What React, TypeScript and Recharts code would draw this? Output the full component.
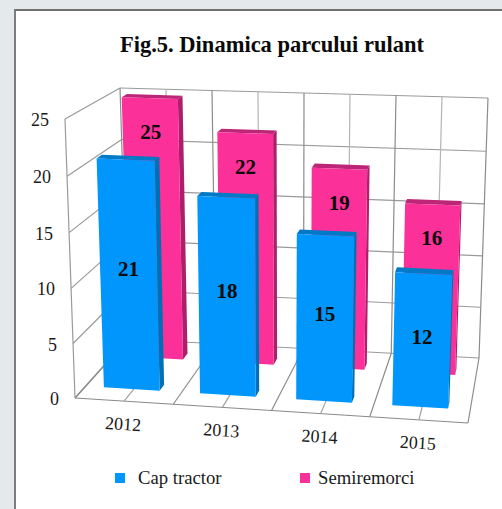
import { Bar, BarChart, CartesianGrid, LabelList, Legend, XAxis, YAxis } from "recharts";

const years = ["2012", "2013", "2014", "2015"];
const capTractor = [21, 18, 15, 12];
const semiremorci = [25, 22, 19, 16];
const valueTicks = [0, 5, 10, 15, 20, 25];

const data = years.map((year, i) => ({
  year,
  capTractor: capTractor[i],
  semiremorci: semiremorci[i],
}));

const WIDTH = 502;
const HEIGHT = 509;
// flat plot rectangle Recharts lays out, everything is then projected into the 3D box
const PLOT = { x: 60, y: 80, w: 400, h: 300 };
const SERIF = "'Liberation Serif', 'Times New Roman', serif";

const BLUE = { front: "#0096fb", side: "#0070b4", top: "#0079c6", near: 0.2, far: 0.3, shift: -1, shrink: 2 };
const PINK = { front: "#fb3098", side: "#ad1f6b", top: "#bd2676", near: 0.72, far: 0.82, shift: -2, shrink: 1 };

type Pt = [number, number];
// box corners, [front, back] for bottom and top, seen on screen
const BOX = {
  bottomLeft: [[75, 398], [128, 339]] as Pt[],
  bottomRight: [[468, 423], [479, 358]] as Pt[],
  topLeft: [[65, 119], [120, 88]] as Pt[],
  topRight: [[478, 134], [488, 98]] as Pt[],
};

const mix = (a: number, b: number, t: number) => a + (b - a) * t;
const mixPt = (a: Pt, b: Pt, t: number): Pt => [mix(a[0], b[0], t), mix(a[1], b[1], t)];

function project(px: number, py: number, depth: number): Pt {
  const u = (px - PLOT.x) / PLOT.w;
  const flat = (PLOT.y + PLOT.h - py) / PLOT.h;
  // slight foreshortening, the lower value bands look a little narrower
  const v = flat - 0.03 * flat * (1 - flat);
  const bl = mixPt(BOX.bottomLeft[0], BOX.bottomLeft[1], depth);
  const br = mixPt(BOX.bottomRight[0], BOX.bottomRight[1], depth);
  const tl = mixPt(BOX.topLeft[0], BOX.topLeft[1], depth);
  const tr = mixPt(BOX.topRight[0], BOX.topRight[1], depth);
  return mixPt(mixPt(bl, br, u), mixPt(tl, tr, u), v);
}

const toPoints = (pts: Pt[]) => pts.map((p) => `${p[0].toFixed(1)},${p[1].toFixed(1)}`).join(" ");

function Seg({ a, b, color }: { a: Pt; b: Pt; color: string }) {
  return <line x1={a[0]} y1={a[1]} x2={b[0]} y2={b[1]} stroke={color} strokeWidth={1.2} />;
}

function renderBar3D(props: any, look: typeof BLUE) {
  const { y, height } = props;
  const x = props.x + look.shift;
  const x2 = x + props.width - look.shrink;
  const y2 = y + height;
  const a = project(x, y, look.near);
  const b = project(x2, y, look.near);
  const c = project(x2, y2, look.near);
  const d = project(x, y2, look.near);
  const e = project(x, y, look.far);
  const f = project(x2, y, look.far);
  const g = project(x2, y2, look.far);
  return (
    <g>
      <polygon points={toPoints([b, f, g, c])} fill={look.side} />
      <polygon points={toPoints([a, e, f, b])} fill={look.top} />
      <polygon points={toPoints([a, b, c, d])} fill={look.front} />
    </g>
  );
}

function renderValue(props: any, look: typeof BLUE, place: (y: number, h: number) => number) {
  const { x, y, width, height, value } = props;
  const p = project(x + look.shift + (width - look.shrink) / 2, place(y, height), look.near);
  return (
    <text
      x={p[0]}
      y={p[1]}
      textAnchor="middle"
      dominantBaseline="central"
      fontFamily={SERIF}
      fontWeight="bold"
      fontSize={21}
      fill="#0a0a0a"
    >
      {value}
    </text>
  );
}

function renderHorizontal(props: any) {
  const y = props.y1;
  const isFloor = Math.abs(y - (PLOT.y + PLOT.h)) < 0.5;
  return (
    <g key={props.key}>
      <Seg a={project(PLOT.x, y, 0)} b={project(PLOT.x, y, 1)} color="#9a9a9a" />
      <Seg a={project(PLOT.x, y, 1)} b={project(PLOT.x + PLOT.w, y, 1)} color="#9a9a9a" />
      {isFloor && <Seg a={project(PLOT.x, y, 0)} b={project(PLOT.x + PLOT.w, y, 0)} color="#8a8a8a" />}
    </g>
  );
}

function renderVertical(props: any) {
  const x = props.x1;
  const bottom = PLOT.y + PLOT.h;
  const step = PLOT.w / 4;
  const isDivider = Math.abs(((x - PLOT.x) / step) % 1) < 0.01;
  const color = isDivider ? "#8c8c8c" : "#b4b4b4";
  return (
    <g key={props.key}>
      <Seg a={project(x, PLOT.y, 1)} b={project(x, bottom, 1)} color={color} />
      <Seg a={project(x, bottom, 0)} b={project(x, bottom, 1)} color={isDivider ? "#8c8c8c" : "#a0a0a0"} />
      {x === PLOT.x && <Seg a={project(x, PLOT.y, 0)} b={project(x, bottom, 0)} color="#9a9a9a" />}
    </g>
  );
}

const eighths = () => Array.from({ length: 9 }, (_, i) => PLOT.x + (PLOT.w * i) / 8);

function XTick({ x, payload }: any) {
  const p = project(x, PLOT.y + PLOT.h, 0);
  const tx = p[0] - 1;
  const ty = p[1] + 23;
  return (
    <text
      x={tx}
      y={ty}
      textAnchor="middle"
      dominantBaseline="central"
      transform={`rotate(3.4 ${tx} ${ty})`}
      fontFamily={SERIF}
      fontSize={18}
      fill="#1a1a1a"
    >
      {payload.value}
    </text>
  );
}

function YTick({ y, payload }: any) {
  const p = project(PLOT.x, y, 0);
  return (
    <text
      x={p[0] - 16}
      y={p[1] + 1}
      textAnchor="end"
      dominantBaseline="central"
      fontFamily={SERIF}
      fontSize={18}
      fill="#1a1a1a"
    >
      {payload.value}
    </text>
  );
}

function LegendRow({ payload }: any) {
  const spots: Record<string, { left: number; gap: number }> = {
    "Cap tractor": { left: 115, gap: 13 },
    Semiremorci: { left: 300, gap: 8 },
  };
  return (
    <div style={{ position: "relative", height: 0 }}>
      {(payload || []).map((item: any) => (
        <div
          key={item.value}
          style={{
            position: "absolute",
            left: spots[item.value].left,
            top: 0,
            display: "flex",
            alignItems: "center",
            height: 24,
            whiteSpace: "nowrap",
            fontFamily: SERIF,
            fontSize: 18.7,
            color: "#1a1a1a",
          }}
        >
          <span style={{ width: 10, height: 10, background: item.color, marginRight: spots[item.value].gap }} />
          {item.value}
        </div>
      ))}
    </div>
  );
}

export default function App() {
  return (
    <div style={{ position: "absolute", left: 0, top: 0, width: WIDTH, height: HEIGHT, background: "#e4e9ec", overflow: "hidden" }}>
      <div
        style={{
          position: "absolute",
          left: 14,
          top: 9,
          width: WIDTH - 14,
          height: HEIGHT - 9,
          background: "#fff",
          borderLeft: "2px solid #7d7d7d",
          borderTop: "2px solid #6f6f6f",
        }}
      />
      <div
        style={{
          position: "absolute",
          left: 120,
          top: 32,
          width: 303,
          textAlign: "center",
          whiteSpace: "nowrap",
          fontFamily: SERIF,
          fontWeight: "bold",
          fontSize: 22.5,
          lineHeight: "26px",
          color: "#0a0a0a",
        }}
      >
        Fig.5. Dinamica parcului rulant
      </div>
      <div style={{ position: "absolute", left: 0, top: 0 }}>
        <BarChart
          width={WIDTH}
          height={HEIGHT}
          data={data}
          margin={{ top: PLOT.y, right: WIDTH - PLOT.x - PLOT.w, bottom: 99, left: 0 }}
          barSize={60}
          barGap={-60}
        >
          <CartesianGrid
            horizontal={renderHorizontal}
            vertical={renderVertical}
            verticalCoordinatesGenerator={eighths}
          />
          <XAxis dataKey="year" height={30} axisLine={false} tickLine={false} interval={0} tick={XTick} />
          <YAxis width={60} domain={[0, 25]} ticks={valueTicks} axisLine={false} tickLine={false} tick={YTick} />
          <Legend
            verticalAlign="top"
            content={LegendRow}
            wrapperStyle={{ position: "absolute", left: 0, top: 466, width: WIDTH }}
          />
          <Bar
            dataKey="semiremorci"
            name="Semiremorci"
            fill={PINK.front}
            isAnimationActive={false}
            shape={(p: any) => renderBar3D(p, PINK)}
          >
            <LabelList
              dataKey="semiremorci"
              content={(p: any) => renderValue(p, PINK, (y) => y + 38)}
            />
          </Bar>
          <Bar
            dataKey="capTractor"
            name="Cap tractor"
            fill={BLUE.front}
            isAnimationActive={false}
            shape={(p: any) => renderBar3D(p, BLUE)}
          >
            <LabelList
              dataKey="capTractor"
              content={(p: any) => renderValue(p, BLUE, (y, h) => y + h * 0.47)}
            />
          </Bar>
        </BarChart>
      </div>
    </div>
  );
}
